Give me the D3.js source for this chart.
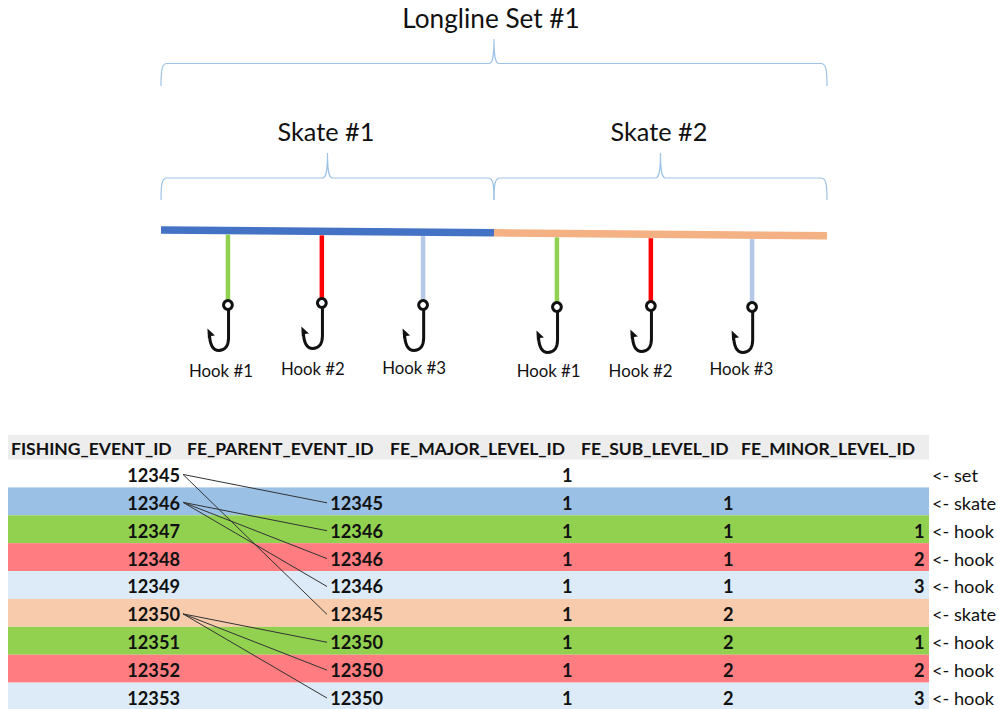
<!DOCTYPE html>
<html>
<head>
<meta charset="utf-8">
<script src="https://d3js.org/d3.v7.min.js"></script>
<style>
html, body { margin:0; padding:0; background:#fff; }
svg { display:block; }
text { font-family:Lato, "Open Sans", sans-serif; fill:#111; }
</style>
</head>
<body>
<div id="chart-area"></div>
<script>
// Table columns
var headers = ["FISHING_EVENT_ID", "FE_PARENT_EVENT_ID", "FE_MAJOR_LEVEL_ID", "FE_SUB_LEVEL_ID", "FE_MINOR_LEVEL_ID"];
var eventIds = [12345, 12346, 12347, 12348, 12349, 12350, 12351, 12352, 12353];
var parentIds = [null, 12345, 12346, 12346, 12346, 12345, 12350, 12350, 12350];
var majorLevels = [1, 1, 1, 1, 1, 1, 1, 1, 1];
var subLevels = [null, 1, 1, 1, 1, 2, 2, 2, 2];
var minorLevels = [null, null, 1, 2, 3, null, 1, 2, 3];
var rowKinds = ["set", "skate", "hook", "hook", "hook", "skate", "hook", "hook", "hook"];
var rowColors = ["#ffffff", "#9bc0e5", "#92d050", "#ff7c80", "#dcebf7", "#f8cbad", "#92d050", "#ff7c80", "#dcebf7"];

// Diagram, positions along the line are in skates
var skateNames = ["Skate #1", "Skate #2"];
var skateColors = ["#4472c4", "#f4b183"];
var hookNames = ["Hook #1", "Hook #2", "Hook #3", "Hook #1", "Hook #2", "Hook #3"];
var hookPositions = [0.201, 0.483, 0.787, 1.189, 1.471, 1.775];
var hookDepths = [75, 73, 75, 77, 76, 77];
var hookColors = ["#92d050", "#ff0000", "#b4c7e7", "#92d050", "#ff0000", "#b4c7e7"];
var labelPositions = [0.180, 0.456, 0.760, 1.164, 1.440, 1.743];
var labelDepths = [141, 139, 138, 141.5, 141, 139.5];

var width = 998, height = 709;

var svg = d3.select("#chart-area")
    .append("svg")
    .attr("width", width)
    .attr("height", height);

// Scales
var x = d3.scaleLinear().domain([0, 2]).range([161, 827]);
var depth = d3.scaleLinear().domain([0, 100]).range([230, 330]);
var lineY = d3.scaleLinear().domain([0, 1, 2]).range([230, 232.8, 235.8]);
var rowY = d3.scaleBand().domain(d3.range(eventIds.length)).range([459.5, 710.5]);
var colRight = d3.scaleOrdinal().domain(d3.range(5)).range([180, 383, 572.5, 733.5, 924.5]);
var colLeft = d3.scaleOrdinal().domain(d3.range(5)).range([11, 187, 390, 581, 741]);

// Curly brace over a stretch of the line
function brace(a, b, top, tip, bottom) {
    var mid = (a + b) / 2;
    return "M" + a + "," + bottom +
        "C" + a + "," + (top + 6) + " " + (a + 1) + "," + top + " " + (a + 6) + "," + top +
        "L" + (mid - 5) + "," + top +
        "C" + (mid - 2) + "," + top + " " + mid + "," + (top - 4) + " " + mid + "," + tip +
        "C" + mid + "," + (top - 4) + " " + (mid + 2) + "," + top + " " + (mid + 5) + "," + top +
        "L" + (b - 6) + "," + top +
        "C" + (b - 1) + "," + top + " " + b + "," + (top + 6) + " " + b + "," + bottom;
}

var braces = svg.append("g")
    .attr("fill", "none")
    .attr("stroke", "#9dc3e6")
    .attr("stroke-width", 1.2);
braces.append("path").attr("d", brace(x(0), x(2), 63.5, 39, 86));
skateNames.forEach(function(name, i) {
    braces.append("path").attr("d", brace(x(i), x(i + 1), 178, 153, 200));
});

svg.append("text")
    .attr("x", 491)
    .attr("y", 28)
    .attr("font-size", "26.2px")
    .attr("text-anchor", "middle")
    .text("Longline Set #1");

svg.selectAll(".skate-name")
    .data(skateNames)
    .enter().append("text")
    .attr("class", "skate-name")
    .attr("x", function(d, i) { return x(i + 0.5) - 1.5; })
    .attr("y", 141)
    .attr("font-size", "25.3px")
    .attr("text-anchor", "middle")
    .text(function(d) { return d; });

// Main line
svg.selectAll(".skate")
    .data(skateColors)
    .enter().append("line")
    .attr("class", "skate")
    .attr("x1", function(d, i) { return x(i); })
    .attr("x2", function(d, i) { return x(i + 1); })
    .attr("y1", function(d, i) { return lineY(i); })
    .attr("y2", function(d, i) { return lineY(i + 1); })
    .attr("stroke", function(d) { return d; })
    .attr("stroke-width", 7.5);

// Droppers
svg.selectAll(".dropper")
    .data(hookPositions)
    .enter().append("line")
    .attr("class", "dropper")
    .attr("x1", function(d) { return x(d); })
    .attr("x2", function(d) { return x(d); })
    .attr("y1", function(d) { return lineY(d) + 4; })
    .attr("y2", function(d, i) { return depth(hookDepths[i]); })
    .attr("stroke", function(d, i) { return hookColors[i]; })
    .attr("stroke-width", 4.5);

// Hooks
var hooks = svg.selectAll(".hook")
    .data(hookPositions)
    .enter().append("g")
    .attr("class", "hook")
    .attr("transform", function(d, i) {
        return "translate(" + x(d) + "," + depth(hookDepths[i]) + ")";
    });
hooks.append("circle")
    .attr("r", 4.4)
    .attr("fill", "#fff")
    .attr("stroke", "#111")
    .attr("stroke-width", 3);
hooks.append("path")
    .attr("d", "M0.6,5V33C0.6,42 -4,45.5 -9,45.5C-16,45.5 -18.5,38 -18.5,27")
    .attr("fill", "none")
    .attr("stroke", "#111")
    .attr("stroke-width", 3);
hooks.append("path")
    .attr("d", "M-20.5,23.5L-13,30.5L-17,31L-20,33.5Z")
    .attr("fill", "#111");

svg.selectAll(".hook-name")
    .data(hookNames)
    .enter().append("text")
    .attr("class", "hook-name")
    .attr("x", function(d, i) { return x(labelPositions[i]); })
    .attr("y", function(d, i) { return depth(labelDepths[i]) + 5.5; })
    .attr("font-size", "16.8px")
    .attr("text-anchor", "middle")
    .text(function(d) { return d; });

// Table header
svg.append("rect")
    .attr("x", 8)
    .attr("y", 435)
    .attr("width", 921)
    .attr("height", 26)
    .attr("fill", "#ededed");

svg.selectAll(".header")
    .data(headers)
    .enter().append("text")
    .attr("class", "header")
    .attr("x", function(d, i) { return colLeft(i); })
    .attr("y", 454.5)
    .attr("font-size", "17.5px")
    .attr("font-weight", 700)
    .text(function(d) { return d; });

// Table rows
var rows = svg.selectAll(".row")
    .data(eventIds)
    .enter().append("g")
    .attr("class", "row")
    .attr("transform", function(d, i) { return "translate(0," + rowY(i) + ")"; });

rows.append("rect")
    .attr("x", 8)
    .attr("width", 921)
    .attr("height", rowY.bandwidth())
    .attr("fill", function(d, i) { return rowColors[i]; });

[eventIds, parentIds, majorLevels, subLevels, minorLevels].forEach(function(column, c) {
    rows.append("text")
        .attr("x", colRight(c))
        .attr("y", rowY.bandwidth() / 2 + 8.5)
        .attr("font-size", "18.2px")
        .attr("font-weight", 700)
        .attr("text-anchor", "end")
        .text(function(d, i) { return column[i] === null ? "" : column[i]; });
});

rows.append("text")
    .attr("x", 932)
    .attr("y", rowY.bandwidth() / 2 + 8.5)
    .attr("font-size", "18.2px")
    .text(function(d, i) { return "<- " + rowKinds[i]; });

// Links from each parent id to the rows pointing at it
var links = parentIds.map(function(p, i) {
    return { from: eventIds.indexOf(p), to: i };
}).filter(function(d) { return d.from >= 0; });

svg.selectAll(".link")
    .data(links)
    .enter().append("line")
    .attr("class", "link")
    .attr("x1", 183)
    .attr("y1", function(d) { return rowY(d.from) + rowY.bandwidth() / 2 + 1; })
    .attr("x2", 327)
    .attr("y2", function(d) { return rowY(d.to) + rowY.bandwidth() / 2 + 1.5; })
    .attr("stroke", "#333")
    .attr("stroke-width", 1);
</script>
</body>
</html>
